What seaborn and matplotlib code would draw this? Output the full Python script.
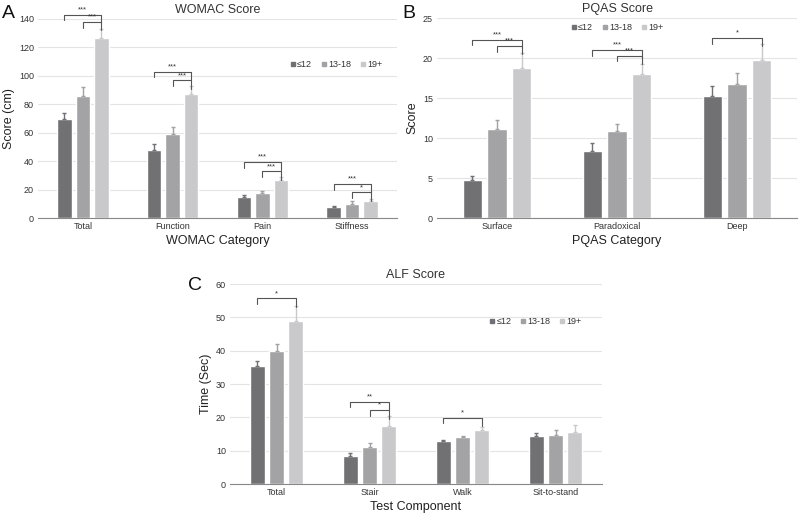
import matplotlib
matplotlib.use('Agg')
import matplotlib.pyplot as plt
import seaborn as sns
import pandas as pd
from matplotlib.lines import Line2D

sns.set_style('white')
plt.rcParams['font.family'] = ['Liberation Sans', 'DejaVu Sans']

groups = ['≤12', '13-18', '19+']
colors = ['#707075', '#a2a2a6', '#c9c9cb']

# WOMAC
womac_cats = ['Total', 'Function', 'Pain', 'Stiffness']
womac_mean = [[69.5, 48.0, 15.0, 7.5],
              [86.0, 59.0, 17.5, 9.5],
              [126.5, 87.5, 27.0, 12.0]]
womac_err = [[4.5, 4.0, 1.5, 0.6],
             [6.5, 5.0, 1.5, 2.5],
             [6.5, 5.5, 2.0, 1.5]]

# PQAS
pqas_cats = ['Surface', 'Paradoxical', 'Deep']
pqas_mean = [[4.7, 8.4, 15.2],
             [11.1, 10.9, 16.8],
             [18.8, 18.0, 19.8]]
pqas_err = [[0.6, 1.0, 1.3],
            [1.2, 0.9, 1.3],
            [1.8, 1.3, 1.9]]

# ALF
alf_cats = ['Total', 'Stair', 'Walk', 'Sit-to-stand']
alf_mean = [[35.5, 8.5, 12.8, 14.3],
            [40.0, 11.1, 14.0, 14.8],
            [49.0, 17.3, 16.2, 15.6]]
alf_err = [[1.4, 0.7, 0.5, 0.9],
           [2.0, 1.3, 0.5, 1.5],
           [4.5, 3.0, 1.0, 2.2]]

# significance brackets: (category, first group, last group, height, label)
womac_sig = [(0, 0, 2, 143, '***'), (0, 1, 2, 138, '***'),
             (1, 0, 2, 103, '***'), (1, 1, 2, 97, '***'),
             (2, 0, 2, 39.5, '***'), (2, 1, 2, 33, '***'),
             (3, 0, 2, 24, '***'), (3, 1, 2, 18, '*')]
pqas_sig = [(0, 0, 2, 22.3, '***'), (0, 1, 2, 21.5, '***'),
            (1, 0, 2, 21.0, '***'), (1, 1, 2, 20.3, '***'),
            (2, 0, 2, 22.5, '*')]
alf_sig = [(0, 0, 2, 55.7, '*'),
           (1, 0, 2, 24.7, '**'), (1, 1, 2, 22.2, '*'),
           (2, 0, 2, 19.9, '*')]


def panel(ax, cats, means, errs, sigs, ymax, ystep, title, xlabel, ylabel,
          legend_pos, drop):
    rows = []
    for g, grp in enumerate(groups):
        for c, cat in enumerate(cats):
            rows.append({'cat': cat, 'group': grp, 'val': means[g][c],
                         'err': errs[g][c]})
    df = pd.DataFrame(rows)
    sns.barplot(data=df, x='cat', y='val', hue='group', order=cats,
                hue_order=groups, palette=colors, width=0.62, gap=0.22,
                errorbar=None, legend=False, ax=ax)
    # bar centres, in hue order then category order
    centers = {}
    for i, p in enumerate(ax.patches[:len(groups) * len(cats)]):
        g, c = divmod(i, len(cats))
        x = p.get_x() + p.get_width() / 2
        centers[(c, g)] = x
        ax.errorbar(x, means[g][c], yerr=[[0], [errs[g][c]]], fmt='none',
                    ecolor=colors[g], elinewidth=1, capsize=1.5, capthick=1)
    for c, g1, g2, h, lab in sigs:
        x1, x2 = centers[(c, g1)], centers[(c, g2)]
        ax.plot([x1, x1, x2, x2], [h - drop, h, h, h - drop * 1.5],
                color='#555555', lw=0.8, clip_on=False)
        ax.text((x1 + x2) / 2, h + drop * 0.2, lab, ha='center', va='bottom',
                fontsize=5.5, color='#333333', clip_on=False)
    ax.set_ylim(0, ymax)
    ax.set_xlim(-0.5, len(cats) - 0.5)
    ax.set_yticks([ystep * k for k in range(int(ymax / ystep) + 1)])
    ax.yaxis.grid(True, color='#e4e4e4', lw=0.8)
    ax.set_axisbelow(True)
    for s in ['top', 'right', 'left']:
        ax.spines[s].set_visible(False)
    ax.spines['bottom'].set_color('#888888')
    ax.tick_params(axis='both', labelsize=6.5, colors='#333333', length=0,
                   pad=3)
    ax.set_title(title, fontsize=9, color='#333333', pad=4)
    ax.set_xlabel(xlabel, fontsize=9, color='#222222', labelpad=3)
    ax.set_ylabel(ylabel, fontsize=9, color='#222222', labelpad=3)
    handles = [Line2D([], [], marker='s', ls='none', ms=2.5, color=col)
               for col in colors]
    ax.legend(handles, groups, loc='center', bbox_to_anchor=legend_pos,
              ncol=3, frameon=False, fontsize=6.5, handletextpad=0.1,
              columnspacing=0.9, handlelength=0.8, labelcolor='#333333')


fig = plt.figure(figsize=(8, 5.13), dpi=100)
W, H = 800, 513


def add_ax(x0, y_bottom, w, h):
    return fig.add_axes([x0 / W, (H - y_bottom) / H, w / W, h / H])


axA = add_ax(38, 218, 359, 199)
axB = add_ax(437, 218, 360, 200)
axC = add_ax(230, 484, 372, 200)

panel(axA, womac_cats, womac_mean, womac_err, womac_sig, 140, 20,
      'WOMAC Score', 'WOMAC Category', 'Score (cm)', (0.83, 0.77), 4)
panel(axB, pqas_cats, pqas_mean, pqas_err, pqas_sig, 25, 5,
      'PQAS Score', 'PQAS Category', 'Score', (0.5, 0.95), 0.7)
panel(axC, alf_cats, alf_mean, alf_err, alf_sig, 60, 10,
      'ALF Score', 'Test Component', 'Time (Sec)', (0.82, 0.81), 1.7)

fig.text(2 / W, 1 - 18 / H, 'A', fontsize=14, color='#111111')
fig.text(402 / W, 1 - 18 / H, 'B', fontsize=14, color='#111111')
fig.text(188 / W, 1 - 290 / H, 'C', fontsize=14, color='#111111')

fig.savefig('out.png', dpi=100)
